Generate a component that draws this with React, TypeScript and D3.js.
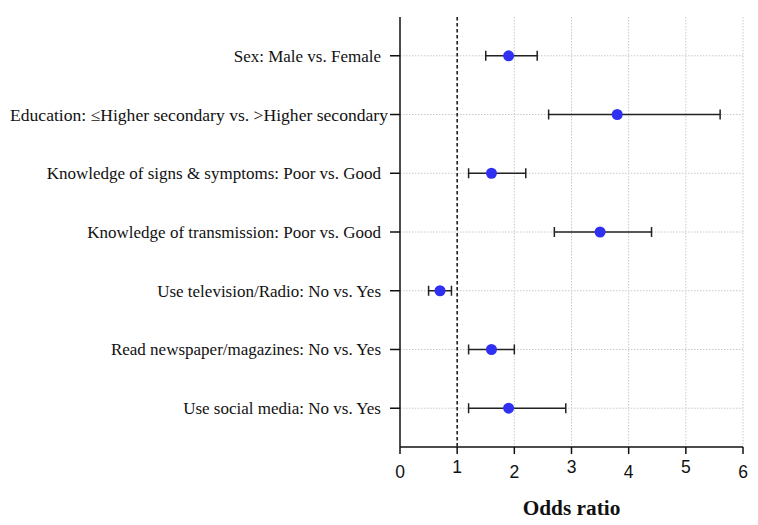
import React from "react";
import * as d3 from "d3";

const categories = [
  "Sex: Male vs. Female",
  "Education: \u2264Higher secondary vs. >Higher secondary",
  "Knowledge of signs & symptoms: Poor vs. Good",
  "Knowledge of transmission: Poor vs. Good",
  "Use television/Radio: No vs. Yes",
  "Read newspaper/magazines: No vs. Yes",
  "Use social media: No vs. Yes",
];
const oddsRatio = [1.9, 3.8, 1.6, 3.5, 0.7, 1.6, 1.9];
const ciLower = [1.5, 2.6, 1.2, 2.7, 0.5, 1.2, 1.2];
const ciUpper = [2.4, 5.6, 2.2, 4.4, 0.9, 2.0, 2.9];
const xTicks = [0, 1, 2, 3, 4, 5, 6];
const xTitle = "Odds ratio";

const W = 758;
const H = 525;
const left = 400;
const right = 743;
const top = 17;
const bottom = 447;

export default function App() {
  const x = d3.scaleLinear().domain([0, 6]).range([left, right]);
  const y = d3.scalePoint<string>().domain(categories).range([top, bottom]).padding(0.66);
  const serif = "'Liberation Serif', 'Times New Roman', serif";
  const sans = "'Liberation Sans', Arial, sans-serif";
  const blue = "#3030f2";
  return (
    <svg width={W} height={H} style={{ position: "absolute", left: 0, top: 0, background: "#fff" }}>
      {/* grid */}
      {xTicks.filter((t) => t >= 2).map((t) => (
        <line key={"gx" + t} x1={x(t)} x2={x(t)} y1={top} y2={bottom} stroke="#c8c8c8" strokeWidth={1} strokeDasharray="1.5,1.5" />
      ))}
      {categories.map((c) => (
        <line key={"gy" + c} x1={left} x2={right} y1={y(c)} y2={y(c)} stroke="#c8c8c8" strokeWidth={1} strokeDasharray="1.5,1.5" />
      ))}
      {/* reference line */}
      <line x1={x(1)} x2={x(1)} y1={top} y2={bottom} stroke="#111" strokeWidth={1.5} strokeDasharray="3.5,2.5" />
      {/* axes */}
      <line x1={left} x2={left} y1={top} y2={bottom} stroke="#111" strokeWidth={1.5} />
      <line x1={left} x2={right} y1={bottom} y2={bottom} stroke="#111" strokeWidth={1.5} />
      {xTicks.map((t, i) => (
        <g key={"xt" + t}>
          <line x1={x(t)} x2={x(t)} y1={bottom} y2={bottom + 7} stroke="#111" strokeWidth={1.5} />
          <text x={x(t)} y={i % 2 === 1 ? 473 : 477.5} textAnchor="middle" fontFamily={sans} fontSize={17.5} fill="#111">{t}</text>
        </g>
      ))}
      {categories.map((c, i) => (
        <g key={"yt" + c}>
          <line x1={left - 10} x2={left} y1={y(c)} y2={y(c)} stroke="#111" strokeWidth={1.5} />
          {i === 1 ? (
            <text x={388} y={(y(c) as number) + 6} textAnchor="end" fontFamily={serif} fontSize={17} fill="#111" textLength={378} lengthAdjust="spacingAndGlyphs">{c}</text>
          ) : (
            <text x={381} y={(y(c) as number) + 6} textAnchor="end" fontFamily={serif} fontSize={17} fill="#111">{c}</text>
          )}
        </g>
      ))}
      {/* CI and points */}
      {categories.map((c, i) => {
        const yy = y(c) as number;
        return (
          <g key={"pt" + c}>
            <line x1={x(ciLower[i])} x2={x(ciUpper[i])} y1={yy} y2={yy} stroke="#222" strokeWidth={1.5} />
            <line x1={x(ciLower[i])} x2={x(ciLower[i])} y1={yy - 5} y2={yy + 5} stroke="#222" strokeWidth={1.5} />
            <line x1={x(ciUpper[i])} x2={x(ciUpper[i])} y1={yy - 5} y2={yy + 5} stroke="#222" strokeWidth={1.5} />
            <circle cx={x(oddsRatio[i])} cy={yy} r={5.5} fill={blue} />
          </g>
        );
      })}
      <text x={x(3)} y={515} textAnchor="middle" fontFamily={serif} fontWeight="bold" fontSize={21.3} fill="#111">{xTitle}</text>
    </svg>
  );
}
